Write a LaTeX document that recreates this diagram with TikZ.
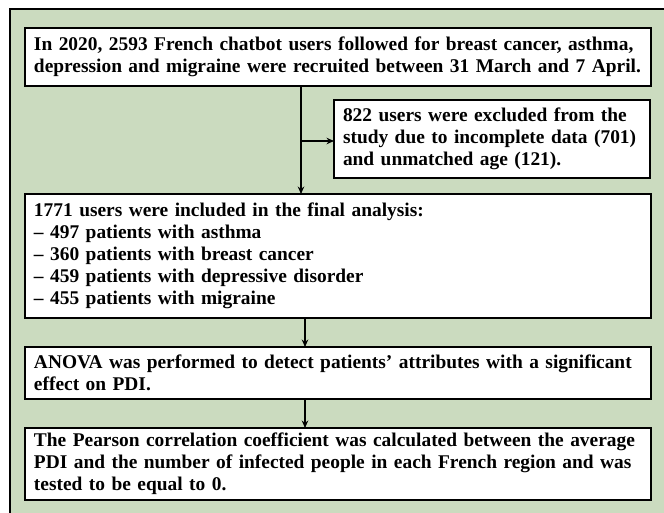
\documentclass[tikz,border=0pt]{standalone}
\usepackage{fontspec}
\setmainfont{Liberation Serif}
\usetikzlibrary{arrows.meta,positioning,calc}
\definecolor{sage}{RGB}{203,219,191}
\tikzset{
  blk/.style={draw, line width=1.4pt, fill=white, align=left, anchor=north west, outer sep=0pt,
    inner xsep=9pt, inner ysep=0pt, font=\fontsize{19.4}{22}\selectfont\bfseries},
  arr/.style={-{Stealth[length=7.5pt,width=6.5pt]}, line width=1.1pt},
  frm/.style={line width=1.6pt}
}

\begin{document}
\begin{tikzpicture}[x=1pt, y=-1pt]
\useasboundingbox (0,0) rectangle (664,513);
\fill[sage] (10,9) rectangle (664,513);
\draw[frm] (10,513) -- (10,9) -- (664,9);
\node[blk, text width=608pt, minimum height=58pt] (recruit) at (25,28)
  {In 2020, 2593 French chatbot users followed for breast cancer, asthma,\\
   depression and migraine were recruited between 31 March and 7 April.};
\node[blk, text width=298pt, minimum height=78pt] (excl) at (334,100)
  {822 users were excluded from the\\ study due to incomplete data (701)\\ and unmatched age (121).};
\node[blk, text width=608pt, minimum height=124pt] (incl) at (25,194)
  {1771 users were included in the final analysis:\\
   – 497 patients with asthma\\
   – 360 patients with breast cancer\\
   – 459 patients with depressive disorder\\
   – 455 patients with migraine};
\node[blk, text width=608pt, minimum height=52pt] (anova) at (25,347)
  {ANOVA was performed to detect patients’ attributes with a significant\\ effect on PDI.};
\node[blk, text width=608pt, minimum height=72pt] (corr) at (25,428)
  {The Pearson correlation coefficient was calculated between the average\\
   PDI and the number of infected people in each French region and was\\
   tested to be equal to 0.};
% connectors
\coordinate (split) at (301,141);
\coordinate (spine) at (305,0);
\draw[line width=1.1pt] (split |- recruit.south) -- (split);
\draw[arr] (split) -- (split |- incl.north);
\draw[arr] (split) -- (split -| excl.west);
\draw[arr] (spine |- incl.south) -- (spine |- anova.north);
\draw[arr] (spine |- anova.south) -- (spine |- corr.north);
\end{tikzpicture}
\end{document}
